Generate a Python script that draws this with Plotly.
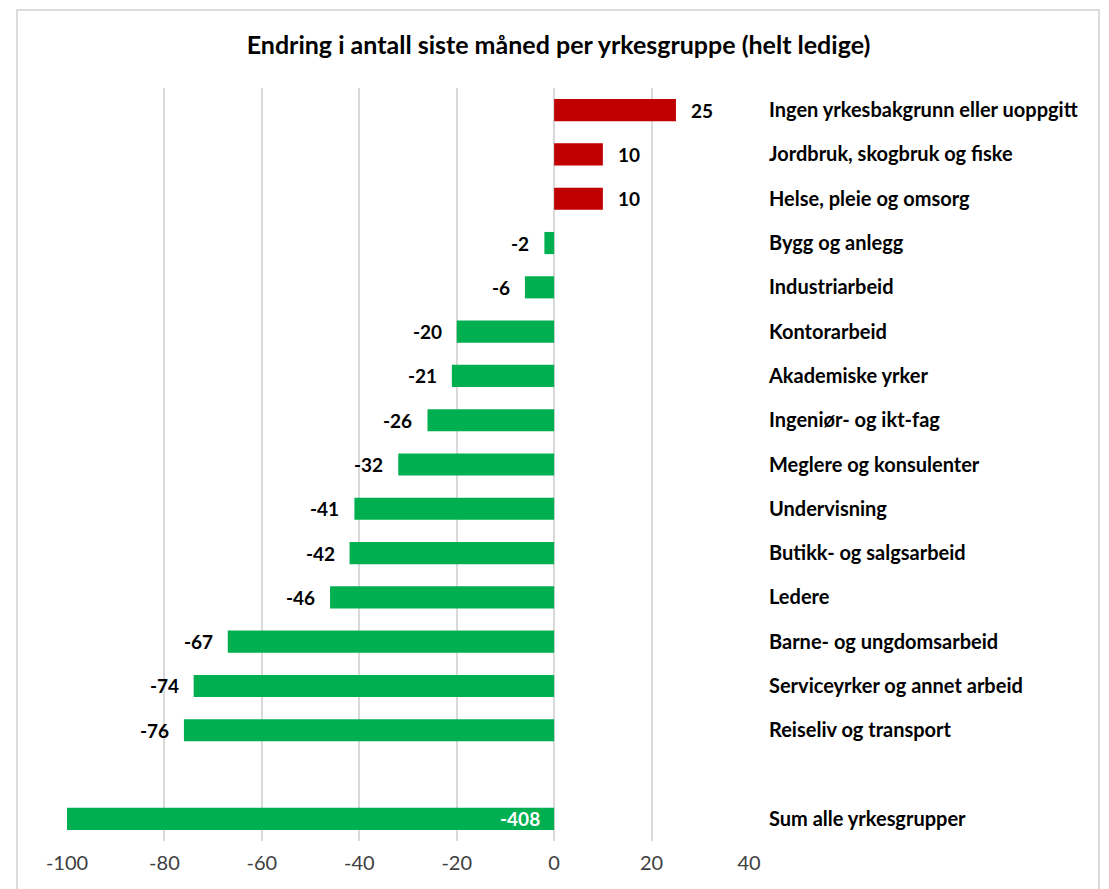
import plotly.graph_objects as go

kategorier = [
    "Ingen yrkesbakgrunn eller uoppgitt",
    "Jordbruk, skogbruk og fiske",
    "Helse, pleie og omsorg",
    "Bygg og anlegg",
    "Industriarbeid",
    "Kontorarbeid",
    "Akademiske yrker",
    "Ingeniør- og ikt-fag",
    "Meglere og konsulenter",
    "Undervisning",
    "Butikk- og salgsarbeid",
    "Ledere",
    "Barne- og ungdomsarbeid",
    "Serviceyrker og annet arbeid",
    "Reiseliv og transport",
    " ",
    "Sum alle yrkesgrupper",
]
endring = [25, 10, 10, -2, -6, -20, -21, -26, -32, -41, -42, -46, -67, -74, -76, None, -408]
x_ticks = [-100, -80, -60, -40, -20, 0, 20, 40]

FONT = "Lato"
farger = ["#C00000" if (v is not None and v > 0) else "#00B050" for v in endring]

fig = go.Figure()
fig.add_trace(go.Bar(
    x=endring, y=kategorier, orientation="h",
    marker=dict(color=farger, line=dict(width=0)),
    width=0.5, showlegend=False, hoverinfo="x+y",
))

# verdietiketter
for kat, v in zip(kategorier, endring):
    if v is None:
        continue
    if v < -100:
        # søylen er kuttet ved -100, etikett inne i søylen ved 0
        fig.add_annotation(x=0, y=kat, text=f"<b>{v}</b>", showarrow=False,
                           xanchor="right", xshift=-12,
                           font=dict(family=FONT, size=19, color="white"))
    else:
        fig.add_annotation(x=v, y=kat, text=f"<b>{v}</b>", showarrow=False,
                           xanchor="left" if v > 0 else "right",
                           xshift=13 if v > 0 else -13,
                           font=dict(family=FONT, size=19, color="black"))

# siden har 8px marg i nettleseren, derfor 1101x881
fig.update_layout(
    width=1101, height=881,
    margin=dict(l=59, r=360, t=80, b=48),
    paper_bgcolor="white", plot_bgcolor="white",
    title=dict(text="<b>Endring i antall siste måned per yrkesgruppe (helt ledige)</b>",
               x=0.5, xref="container", y=0.958, yanchor="middle",
               font=dict(family=FONT, size=25, color="black")),
    font=dict(family=FONT),
)
fig.update_xaxes(range=[-100, 40], tickvals=x_ticks,
                 ticktext=[str(t) for t in x_ticks], showgrid=True,
                 gridcolor="#D9D9D9", gridwidth=2, zeroline=False,
                 showline=False, ticks="", ticklabelstandoff=8,
                 tickfont=dict(family=FONT, size=20, color="#404040"))
fig.update_yaxes(type="category", autorange="reversed", side="right",
                 showgrid=False, zeroline=False, showline=False, ticks="",
                 ticklabelstandoff=19,
                 tickfont=dict(family=FONT, size=20, color="black"),
                 tickvals=kategorier,
                 ticktext=[f"<b>{k}</b>" for k in kategorier])

# ramme rundt diagrammet
fig.add_shape(type="rect", xref="paper", yref="paper",
              x0=(17 - 67) / 682, x1=(1099 - 67) / 682,
              y0=-0.08, y1=1 + (88 - 10) / 753,
              line=dict(color="#D0D0D0", width=1.5), layer="below")

fig.write_html("out.html")
